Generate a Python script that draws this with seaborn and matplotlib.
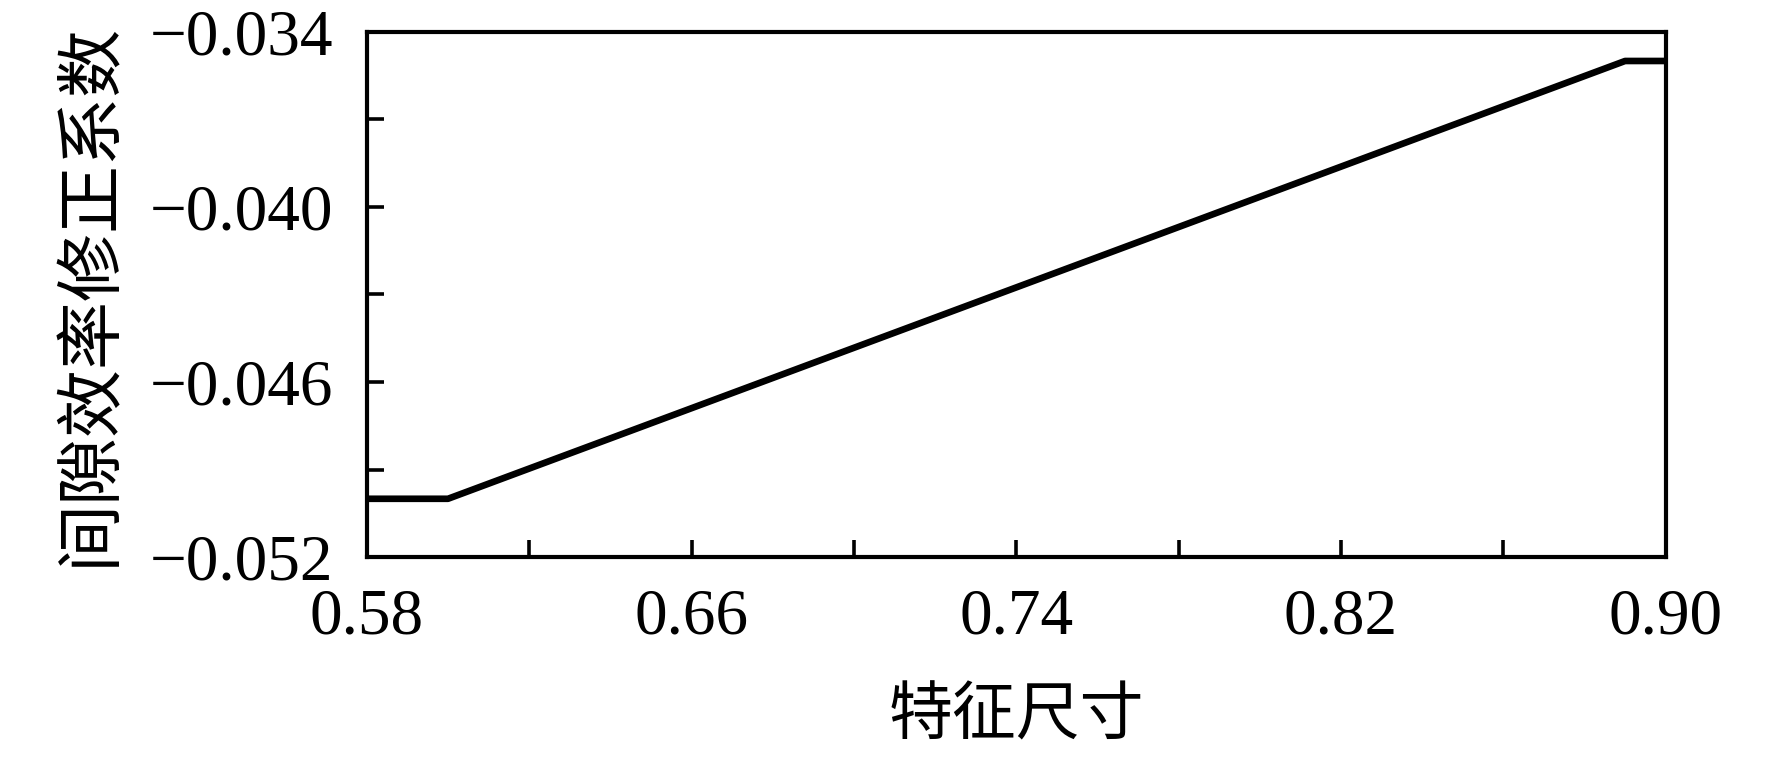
import pandas as pd
import numpy as np
import matplotlib
import seaborn as sns
import matplotlib.pyplot as plt
from matplotlib.ticker import FixedLocator, FuncFormatter

matplotlib.use("Agg")

feature_size = [0.58, 0.60, 0.89, 0.90]
gap_coef = [-0.0500, -0.0500, -0.0350, -0.0350]

x_major = [0.58, 0.66, 0.74, 0.82, 0.90]
x_minor = [0.62, 0.70, 0.78, 0.86]
y_major = [-0.052, -0.046, -0.040, -0.034]
y_minor = [-0.049, -0.043, -0.037]

df = pd.DataFrame({"特征尺寸": feature_size, "间隙效率修正系数": gap_coef})

sns.set_style("ticks")
plt.rcParams["font.family"] = ["Liberation Serif", "Noto Sans CJK SC"]
plt.rcParams["text.color"] = "black"
plt.rcParams["axes.labelcolor"] = "black"

fig = plt.figure(figsize=(17.72, 7.57), dpi=100)
ax = fig.add_axes([0.207, 0.264, 0.733, 0.694])

sns.lineplot(data=df, x="特征尺寸", y="间隙效率修正系数", color="black", linewidth=4.8, ax=ax)

ax.set_xlim(0.58, 0.90)
ax.set_ylim(-0.052, -0.034)
ax.xaxis.set_major_locator(FixedLocator(x_major))
ax.xaxis.set_minor_locator(FixedLocator(x_minor))
ax.yaxis.set_major_locator(FixedLocator(y_major))
ax.yaxis.set_minor_locator(FixedLocator(y_minor))
ax.xaxis.set_major_formatter(FuncFormatter(lambda v, p: "%.2f" % v))
ax.yaxis.set_major_formatter(FuncFormatter(lambda v, p: ("%.3f" % v).replace("-", "\u2212")))

ax.tick_params(which="both", direction="in", width=2.6, colors="black", length=12)
ax.tick_params(which="major", labelsize=47)
ax.tick_params(axis="y", pad=24)
ax.tick_params(axis="x", pad=22)

for s in ax.spines.values():
    s.set_linewidth(3.0)
    s.set_color("black")

ax.set_xlabel("特征尺寸", fontsize=46, family=["Noto Sans CJK SC"], labelpad=26)
ax.set_ylabel("间隙效率修正系数", fontsize=49, family=["Noto Sans CJK SC"], labelpad=18)

fig.savefig("out.png", dpi=100, facecolor="white")
